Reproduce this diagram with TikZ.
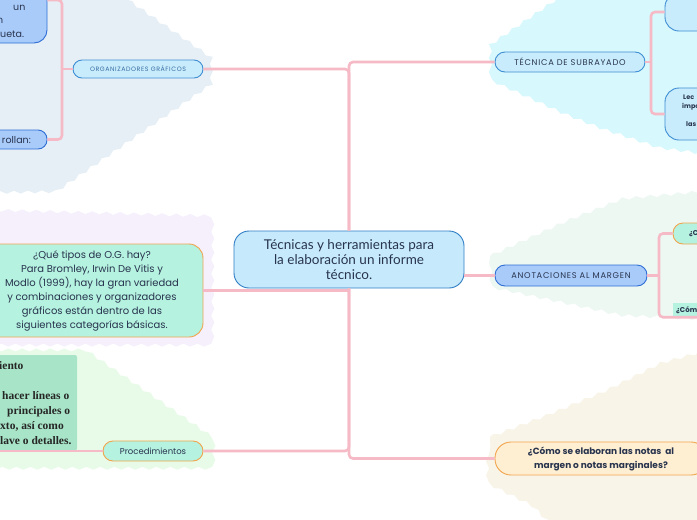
\documentclass[tikz,border=0pt]{standalone}
\usepackage{fontspec}
\setmainfont{Poppins}
\newfontfamily\titlefont{Lato}
\newfontfamily\spacedfont[LetterSpace=9]{Poppins}
\newfontfamily\inkfont{Liberation Serif}
\usetikzlibrary{decorations.pathmorphing}
\definecolor{linkpink}{RGB}{246,186,198}
\definecolor{orgbg}{RGB}{230,239,245}
\definecolor{tecbg}{RGB}{215,248,252}
\definecolor{anotbg}{RGB}{238,248,243}
\definecolor{tiposbg}{RGB}{245,240,252}
\definecolor{procbg}{RGB}{232,251,232}
\definecolor{comobg}{RGB}{248,244,232}
\definecolor{mainfill}{RGB}{198,234,251}
\definecolor{mainline}{RGB}{47,125,197}
\definecolor{lightblue}{RGB}{200,236,251}
\definecolor{blueline}{RGB}{62,142,212}
\definecolor{deepblue}{RGB}{169,203,250}
\definecolor{deepline}{RGB}{46,110,214}
\definecolor{mint}{RGB}{181,242,224}
\definecolor{nodeorange}{RGB}{242,164,76}
\definecolor{peach}{RGB}{255,239,210}
\definecolor{notefill}{RGB}{168,229,200}
\definecolor{inkdark}{RGB}{40,52,78}
\definecolor{orgtext}{RGB}{58,110,165}

\begin{document}
\begin{tikzpicture}[x=1pt,y=-1pt,
  link/.style={draw=linkpink,line width=2.6pt,rounded corners=4pt},
  cloud/.style={decorate,decoration={snake,amplitude=1.5pt,segment length=14pt}},
  topic/.style={draw,line width=0.9pt,rounded corners=#1,inner sep=0pt,align=center,text=inkdark},
  leaftext/.style={inner sep=0pt,text=inkdark,font=\fontsize{9.5}{13}\selectfont},
  inktext/.style={inner sep=0pt,anchor=base west,text=black!85,font=\inkfont\bfseries\fontsize{11.5}{15}\selectfont}]
 \fill[white] (0,0) rectangle (697,520);
 \useasboundingbox (0,0) rectangle (697,520);
 % clouds
 \fill[orgbg,cloud] (-10,-10) -- (110,-10) -- (208,58) -- (208,86) -- (55,192) -- (-10,193) -- cycle;
 \fill[tecbg,cloud] (707,-10) -- (570,-10) -- (490,45) -- (490,76) -- (560,108) -- (600,124) -- (660,144) -- (707,150) -- cycle;
 \fill[anotbg,cloud] (490,256) -- (560,224) -- (620,200) -- (707,192) -- (707,322) -- (620,318) -- (560,305) -- (490,290) -- cycle;
 \fill[tiposbg,cloud] (-10,210) -- (208,216) -- (208,344) -- (-10,344) -- cycle;
 \fill[procbg,cloud] (-10,350) -- (80,350) -- (208,438) -- (208,467) -- (-10,467) -- cycle;
 \fill[comobg,cloud] (490,437) -- (540,418) -- (600,393) -- (660,363) -- (707,350) -- (707,530) -- (560,530) -- (530,500) -- (490,480) -- cycle;

 \node[topic=15pt,fill=mainfill,draw=mainline,minimum width=230pt,minimum height=57pt,
   font=\titlefont\fontsize{13.5}{15}\selectfont] (main) at (349,259.5)
   {Técnicas y herramientas para\\la elaboración un informe\\técnico.};

 % left side
 \node[topic=9pt,fill=lightblue,draw=blueline,minimum width=130pt,minimum height=18pt,
   font=\spacedfont\fontsize{6.3}{8}\selectfont,text=orgtext] (org) at (138,69) {ORGANIZADORES GRÁFICOS};
 \node[topic=13pt,fill=deepblue,draw=deepline,minimum width=107pt,minimum height=86pt] (tl) at (-6.5,0) {};
 \node[leaftext,anchor=base west] (tlun) at (13,10) {un};
 \node[leaftext,anchor=base west] (tln) at (-3,23.5) {n};
 \node[leaftext,anchor=base west] (tleta) at (0,37) {ueta.};
 \node[topic=9pt,fill=deepblue,draw=deepline,minimum width=107pt,minimum height=19pt] (bl) at (-6.5,139.5) {};
 \node[leaftext,anchor=base east] (blrol) at (31,143.5) {rollan:};
 \node[topic=14pt,fill=mint,draw=nodeorange,minimum width=222pt,minimum height=93pt,
   font=\fontsize{10}{14}\selectfont] (tipos) at (92,290.5)
   {¿Qué tipos de O.G. hay?\\Para Bromley, Irwin De Vitis y\\Modlo (1999), hay la gran variedad\\y combinaciones y organizadores\\gráficos están dentro de las\\siguientes categorías básicas.};
 \node[topic=10pt,fill=mint,draw=nodeorange,minimum width=100pt,minimum height=20pt,
   font=\fontsize{8.5}{10}\selectfont] (proc) at (153,451) {Procedimientos};
 \node[fill=notefill,rounded corners=2pt,minimum width=137pt,minimum height=95.5pt] (pbox) at (8.5,402.75) {};
 \node[inktext] (pline1) at (-1,369) {iento};
 \node[inktext] (pline2) at (2,399) {hacer líneas o};
 \node[inktext] (pline3) at (7,414) {principales o};
 \node[inktext] (pline4) at (0,429) {xto, así como};
 \node[inktext] (pline5) at (0,444) {lave o detalles.};

 % right side
 \node[topic=10pt,fill=lightblue,draw=blueline,minimum width=150pt,minimum height=20pt,
   font=\spacedfont\fontsize{8.3}{9}\selectfont] (tec) at (570,62) {TÉCNICA DE SUBRAYADO};
 \node[topic=14pt,fill=lightblue,draw=blueline,minimum width=95pt,minimum height=38pt] (sub1) at (712.5,12) {};
 \node[topic=14pt,fill=lightblue,draw=blueline,minimum width=95pt,minimum height=52pt] (sub2) at (712.5,114) {};
 \node[anchor=north west,inner sep=0pt,align=left,text=inkdark,font=\bfseries\fontsize{6.5}{9}\selectfont] (sub2txt) at (682,95)
   {\hspace*{1pt}Lec\\impo\\[9pt]\hspace*{4pt}las};
 \node[topic=10pt,fill=deepblue,draw=deepline,minimum width=152pt,minimum height=21pt,
   font=\spacedfont\fontsize{8.3}{9}\selectfont] (anot) at (571,275.5) {ANOTACIONES AL MARGEN};
 \node[topic=10pt,fill=mint,draw=nodeorange,minimum width=60pt,minimum height=21pt] (mar1) at (703,233.5) {};
 \node[anchor=west,inner sep=0pt,text=inkdark,font=\bfseries\fontsize{7}{9}\selectfont] (mar1txt) at (689,234) {¿C};
 \node[fill=mint,inner sep=0pt,minimum width=60pt,minimum height=14pt] (mar2) at (703,310) {};
 \node[anchor=west,inner sep=0pt,text=inkdark,font=\bfseries\fontsize{7}{9}\selectfont] (mar2txt) at (676,310) {¿Cóm};
 \node[topic=16pt,fill=peach,draw=nodeorange,minimum width=212pt,minimum height=33pt,
   font=\bfseries\fontsize{9}{14}\selectfont] (como) at (601,458.5)
   {¿Cómo se elaboran las notas~ al\\margen o notas marginales?};

 % links
 \coordinate (orgj) at (62,69);
 \coordinate (tecj) at (651,62);
 \coordinate (anotj) at (659,275.5);
 \draw[link] (org.east) -| (main.north);
 \draw[link] (tec.west) -| (main.north);
 \draw[link] (proc.east) -| (main.south);
 \draw[link] (como.west) -| (main.south);
 \draw[link] (tipos.east) -- (tipos.east -| main.south);
 \draw[link] (anot.west) -- (anot.west -| main.east);
 \draw[link] (org.west) -- (orgj);
 \draw[link] (tl.east) -| (orgj) |- (bl.east);
 \draw[link] (tec.east) -- (tecj);
 \draw[link] (sub1.west) -| (tecj) |- (sub2.west);
 \draw[link] (anot.east) -- (anotj);
 \draw[link] (mar1.west) -| (anotj) |- (mar2.south west) -- (mar2.south east);
 \draw[link] (proc.west) -- (proc.west -| pbox.south west);
\end{tikzpicture}
\end{document}
